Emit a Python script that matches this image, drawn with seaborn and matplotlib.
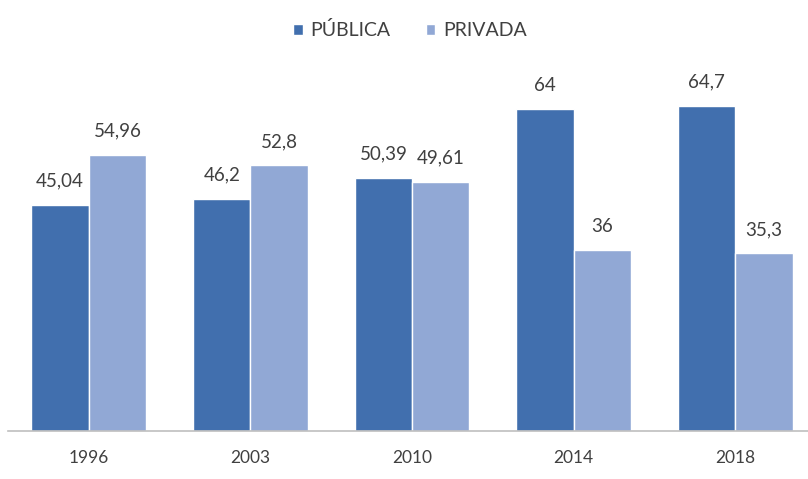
import matplotlib
matplotlib.use("Agg")
import matplotlib.pyplot as plt
import seaborn as sns
import pandas as pd
from matplotlib.patches import Patch

years = ["1996", "2003", "2010", "2014", "2018"]
publica = [45.04, 46.2, 50.39, 64, 64.7]
privada = [54.96, 52.8, 49.61, 36, 35.3]
series_names = ["PÚBLICA", "PRIVADA"]
colors = ["#416FAE", "#91A8D5"]

df = pd.DataFrame({
    "ano": years * 2,
    "tipo": [series_names[0]] * len(years) + [series_names[1]] * len(years),
    "valor": publica + privada,
})

sns.set_theme(style="white")
plt.rcParams["font.family"] = ["Lato", "DejaVu Sans"]

fig = plt.figure(figsize=(8.08, 4.79), dpi=100)
ax = fig.add_axes([8 / 808, 48 / 479, 800 / 808, 352 / 479])

sns.barplot(data=df, x="ano", y="valor", hue="tipo", order=years,
            hue_order=series_names, palette=colors, width=0.71,
            saturation=1, ax=ax, legend=False)

def fmt(v):
    s = f"{v:g}"
    return s.replace(".", ",")

for cont in ax.containers:
    labels = [fmt(b.get_height()) for b in cont]
    ax.bar_label(cont, labels=labels, padding=11, fontsize=13.5, color="#404040")

ax.set_xlim(-0.5, 4.45)
ax.set_ylim(0, 70)
ax.set_xlabel("")
ax.set_ylabel("")
ax.set_yticks([])
for s in ["top", "right", "left"]:
    ax.spines[s].set_visible(False)
ax.spines["bottom"].set_color("#BFBFBF")
ax.spines["bottom"].set_linewidth(1.2)
ax.tick_params(axis="x", length=0, pad=14, labelsize=12.5, labelcolor="#404040")

handles = [Patch(facecolor=c, label=n) for c, n in zip(colors, series_names)]
fig.legend(handles=handles, loc="center", bbox_to_anchor=(410 / 808, 1 - 30 / 479),
           ncol=2, frameon=False, fontsize=14, handlelength=0.5, handleheight=0.5,
           handletextpad=0.4, columnspacing=1.8, labelcolor="#404040")

fig.savefig("out.png", dpi=100, facecolor="white")
